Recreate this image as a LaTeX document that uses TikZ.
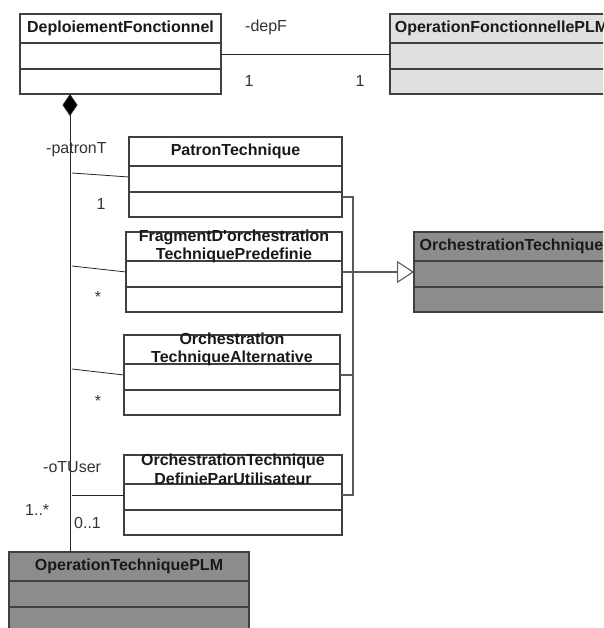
\documentclass[tikz,border=0pt]{standalone}
\usepackage{fontspec}
\setmainfont{Liberation Sans}
\usetikzlibrary{arrows.meta,positioning}

\begin{document}
\begin{tikzpicture}[x=1pt,y=-1pt,font=\fontsize{16}{18.5}\selectfont,>=Stealth,
  cls/.style={draw=black!75,line width=1.1pt,minimum width=#1,minimum height=80pt,
    inner sep=0pt,outer sep=0pt,anchor=north west,
    path picture={\draw[black!75,line width=1.1pt]
      ([yshift=-29pt]path picture bounding box.north west) -- ([yshift=-29pt]path picture bounding box.north east)
      ([yshift=-55pt]path picture bounding box.north west) -- ([yshift=-55pt]path picture bounding box.north east);}},
  ttl/.style={font=\fontsize{16}{18.5}\selectfont\bfseries,align=center,inner sep=0pt,text=black!90},
  lbl/.style={inner sep=0pt,text=black!80},
  assoc/.style={draw=black!85,line width=0.8pt},
  genl/.style={draw=black!65,line width=1.1pt}]
\useasboundingbox (0,0) rectangle (603,628);
\clip (0,0) rectangle (603,628);

% classes
\node[cls=201pt] (dep) at (20,14) {};
\node[ttl] (tDep) at ([yshift=-14.5pt]dep.north) {DeploiementFonctionnel};
\node[cls=223pt,fill=black!12,right=169pt of dep] (opF) {};
\node[ttl] (tOpF) at ([yshift=-14.5pt]opF.north) {OperationFonctionnellePLM};

\node[cls=213pt] (patron) at (129,137) {};
\node[ttl] (tPatron) at ([yshift=-14.5pt]patron.north) {PatronTechnique};
\node[cls=216pt] (frag) at (126,232) {};
\node[ttl] (tFrag) at ([yshift=-14.5pt]frag.north) {FragmentD\textquotesingle orchestration\\TechniquePredefinie};
\node[cls=216pt] (alt) at (124,335) {};
\node[ttl] (tAlt) at ([yshift=-14.5pt]alt.north) {Orchestration\\TechniqueAlternative};
\node[cls=218pt] (defi) at (124,455) {};
\node[ttl] (tDefi) at ([yshift=-14.5pt]defi.north) {OrchestrationTechnique\\DefinieParUtilisateur};

\node[cls=195pt,fill=black!45,right=72pt of frag] (orchT) {};
\node[ttl] (tOrchT) at ([yshift=-14.5pt]orchT.north) {OrchestrationTechnique};
\node[cls=240pt,fill=black!45] (opT) at (9,552) {};
\node[ttl] (tOpT) at ([yshift=-14.5pt]opT.north) {OperationTechniquePLM};

% depF
\draw[assoc] (dep.east) -- (opF.west);
\node[lbl,anchor=base west] (lDepF) at (245,32) {-depF};
\node[lbl,anchor=base] (lDep1) at (249,87) {1};
\node[lbl,anchor=base] (lOpF1) at (360,87) {1};

% composition
\coordinate (cTop) at ([xshift=50pt]dep.south west);
\coordinate (cBot) at (cTop |- opT.north);
\draw[assoc,{Diamond[length=22pt,width=15pt,fill=black]}-] (cTop) -- (cBot);
\path (cTop |- patron.west) ++(2,-4) coordinate (aPatron);
\path (cTop |- frag.west) ++(2,-6) coordinate (aFrag);
\path (cTop |- alt.west) ++(2,-6) coordinate (aAlt);
\path (cTop |- defi.west) ++(2,0) coordinate (aDefi);
\draw[assoc] (aPatron) -- (patron.west);
\draw[assoc] (aFrag) -- (frag.west);
\draw[assoc] (aAlt) -- (alt.west);
\draw[assoc] (aDefi) -- (defi.west);
\node[lbl,anchor=base west] (lPatronT) at (46,154) {-patronT};
\node[lbl,anchor=base] (lPatron1) at (101,209) {1};
\node[lbl,anchor=base] (lFrag) at (98,302) {*};
\node[lbl,anchor=base] (lAlt) at (98,406) {*};
\node[lbl,anchor=base west] (lOTUser) at (43,472) {-oTUser};
\node[lbl,anchor=base west] (lOpT) at (25,515) {1..*};
\node[lbl,anchor=base west] (lDefi) at (74,528) {0..1};

% generalisation
\coordinate (bus) at ([xshift=11pt]frag.east);
\draw[genl] ([yshift=-20pt]patron.east) -| (bus |- defi.east) -- (defi.east);
\draw[genl] (alt.east) -- (bus |- alt.east);
\draw[genl,-{Triangle[open,length=17pt,width=22pt,fill=white]}] (frag.east) -- (orchT.west);
\end{tikzpicture}
\end{document}
